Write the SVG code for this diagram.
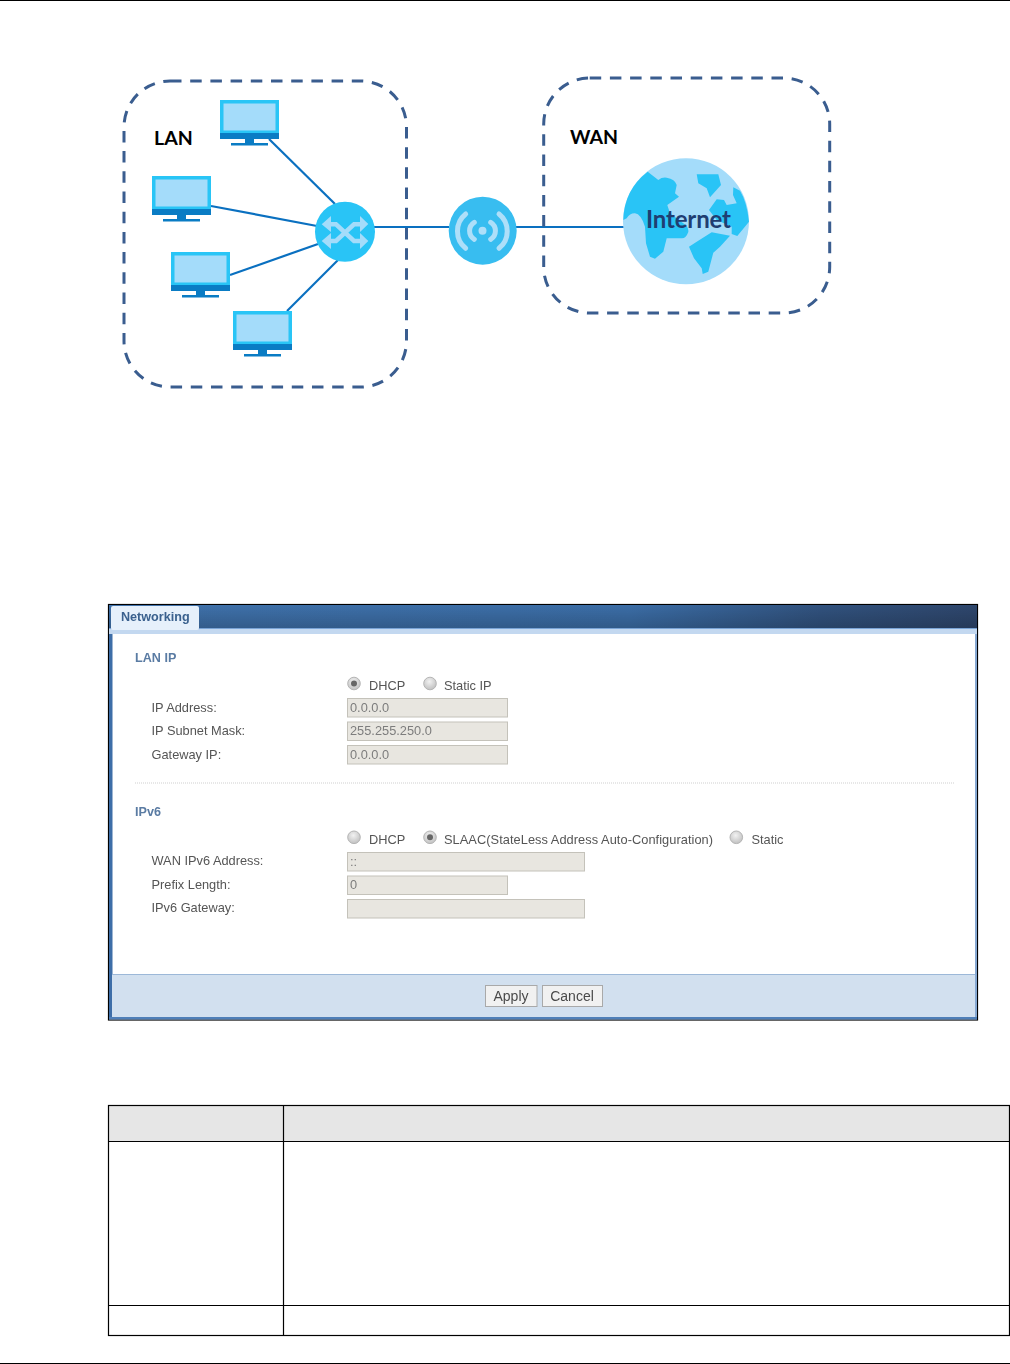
<svg xmlns="http://www.w3.org/2000/svg" width="1010" height="1364" viewBox="0 0 1010 1364">
<defs>
<linearGradient id="hdr" x1="0" y1="0" x2="1" y2="0"><stop offset="0" stop-color="#3f71aa"/><stop offset="0.6" stop-color="#3b6da6"/><stop offset="0.82" stop-color="#31527e"/><stop offset="1" stop-color="#2e466c"/></linearGradient>
<linearGradient id="hdrv" x1="0" y1="0" x2="0" y2="1"><stop offset="0" stop-color="#000" stop-opacity="0"/><stop offset="1" stop-color="#000" stop-opacity="0.18"/></linearGradient>
<radialGradient id="radio" cx="0.45" cy="0.35" r="0.7"><stop offset="0" stop-color="#f2f2f2"/><stop offset="1" stop-color="#bdbdbd"/></radialGradient>
<filter id="soft" x="-5%" y="-20%" width="110%" height="140%"><feGaussianBlur stdDeviation="0.3"/></filter>
<g id="monitor">
<rect x="0" y="0" width="59" height="39" fill="#29c5f6"/>
<rect x="3.5" y="3.5" width="52" height="27" fill="#a4dcfa"/>
<rect x="0" y="33" width="59" height="6" fill="#0a7cc4"/>
<rect x="25" y="39" width="9" height="4" fill="#0a7cc4"/>
<rect x="11" y="43" width="37" height="2.5" fill="#0a7cc4"/>
</g>
<circle id="radioEmpty" r="6.3" fill="url(#radio)" stroke="#b5b5b5" stroke-width="1"/>
</defs>
<style>
.zone{fill:none;stroke:#3a5d8f;stroke-width:3;stroke-dasharray:11.5 8.7}
.link{stroke:#0a70c0;stroke-width:2.2;fill:none}
.zl{font-family:"Lato","Liberation Sans",sans-serif;font-size:19.5px;font-weight:700;fill:#000}
.ui{font-family:"Liberation Sans",Arial,sans-serif;font-size:12.8px;fill:#555;filter:url(#soft)}
.val{font-family:"Liberation Sans",Arial,sans-serif;font-size:12.8px;fill:#7d7d7d;filter:url(#soft)}
.sec{font-family:"Liberation Sans",Arial,sans-serif;font-size:12.6px;font-weight:700;fill:#5a7ba3;filter:url(#soft)}
.field{fill:#e8e6e0;stroke:#c4c2ba;stroke-width:1}
.btn{fill:#f1f1f1;stroke:#a9a9a9;stroke-width:1}
.btxt{font-family:"Liberation Sans",Arial,sans-serif;font-size:14px;fill:#4a4a4a;text-anchor:middle;filter:url(#soft)}
.rule{stroke:#000;stroke-width:1.2;fill:none}
.arrow{fill:none;stroke:#a4dcfa;stroke-width:4.5}
.wave{fill:none;stroke:#aedff9;stroke-width:5;stroke-linecap:round}
.land{fill:#29c4f6}
</style>
<rect width="1010" height="1364" fill="#fff"/>
<line x1="0" y1="0.5" x2="1010" y2="0.5" stroke="#000" stroke-width="1"/>
<line x1="0" y1="1363.5" x2="1010" y2="1363.5" stroke="#000" stroke-width="1"/>

<g id="connectors">
<line class="link" x1="269" y1="139" x2="335" y2="204"/>
<line class="link" x1="211" y1="206" x2="317" y2="226"/>
<line class="link" x1="230" y1="275" x2="318" y2="244"/>
<line class="link" x1="287" y1="311" x2="338" y2="260"/>
<line class="link" x1="374" y1="227" x2="449" y2="227"/>
<line class="link" x1="516" y1="227" x2="625" y2="227"/>
</g>

<g id="zone-lan"><rect class="zone" x="124" y="81" width="282.5" height="306" rx="46" ry="46"/><text class="zl" x="154" y="145">LAN</text></g>
<g id="zone-wan"><rect class="zone" x="543.7" y="78" width="286" height="235" rx="46" ry="46"/><text class="zl" x="570" y="144">WAN</text></g>

<g id="pc-1"><use href="#monitor" x="220" y="100"/></g>
<g id="pc-2"><use href="#monitor" x="152" y="176"/></g>
<g id="pc-3"><use href="#monitor" x="171" y="252"/></g>
<g id="pc-4"><use href="#monitor" x="233" y="311"/></g>

<g id="switch">
<circle cx="345" cy="231.7" r="30" fill="#29c4f6"/>
<path class="arrow" d="M329 224.3H336L354 241H361M329 241H336L354 224.3H361"/>
<path d="M321.7 224.3L331 216V232ZM368.3 224L360 216V232ZM321.7 241L331 233V249ZM368.3 241L360 233V249Z" fill="#a4dcfa"/>
</g>

<g id="router">
<circle cx="482.7" cy="230.7" r="34" fill="#38bdf0"/>
<circle cx="482.5" cy="230.7" r="4" fill="#aedff9"/>
<path class="wave" d="M474.3 222.3A10 10 0 0 0 474.3 239.3M490.7 222.3A10 10 0 0 1 490.7 239.3M465.7 214A22 22 0 0 0 465.7 248.3M499 214A22 22 0 0 1 499 248.3"/>
</g>

<g id="internet">
<circle cx="686" cy="221.3" r="63" fill="#a4dcfa"/>
<path class="land" d="M647.7 171.7L658.3 180Q662 177 666.7 177.7Q675 179 676.7 185L675 193.3L679 196.7L667.3 205L670 213.3L683.3 223.3Q689 227 688.3 232Q686 238.5 681.7 238.3L666.7 238.3L663.3 251.7L655 258.7L650 256.7L646 243.3L645 226.7Q641 214 635 213.3Q630 213 626.7 218.3L623.3 220Q624 190 647.7 171.7Z"/>
<path class="land" d="M696.7 174.3H718.3L721 185L710 197.3L706.7 188.3L698.3 183.3Z"/>
<path class="land" d="M733.3 187.3L740 190.7Q747 202 749 221.7L737.3 236L731.7 234V226.7L716.7 220L709 210L716.7 199.3L724 200L726.7 205L736.7 203.3L733 195Z"/>
<path class="land" d="M711.7 232.3L730 235.7L720 246.7L713.3 252.7L708.3 271.7L702.7 274L701.7 268.3L694 258.3L689 246.7L696.7 241.7Z"/>
<text x="646" y="228" font-family="Lato,'Liberation Sans',sans-serif" font-size="24" font-weight="700" fill="#1f3e72" textLength="85">Internet</text>
</g>

<g id="screenshot">
<rect x="108.5" y="604.5" width="869" height="415.5" fill="#fff" stroke="#000" stroke-width="1.2"/>
<rect x="109" y="605" width="868" height="23" fill="url(#hdr)"/>
<rect x="109" y="605" width="868" height="23" fill="url(#hdrv)"/>
<rect x="109" y="628" width="868" height="6" fill="#c3d8f0"/>
<rect x="109" y="628" width="868" height="1" fill="#7aa4d6"/>
<rect x="109" y="634" width="3.5" height="385" fill="#3e6ea8"/>
<rect x="975" y="634" width="2" height="385" fill="#86a8d2"/>
<rect x="112" y="974" width="863" height="43" fill="#d2e0ef"/>
<rect x="112" y="974" width="863" height="1" fill="#9cb8d8"/>
<rect x="109" y="1017" width="868" height="2.5" fill="#4f7fb8"/>
<rect x="111" y="606" width="88" height="24" rx="2" fill="#e6f0fb"/>
<text x="121" y="621" font-family="'Liberation Sans',Arial,sans-serif" font-size="12.6" font-weight="700" fill="#3a618e" filter="url(#soft)">Networking</text>

<text class="sec" x="135" y="662">LAN IP</text>
<use href="#radioEmpty" x="354" y="683.5"/><circle cx="354" cy="683.5" r="3" fill="#666"/>
<text class="ui" x="369" y="690">DHCP</text>
<use href="#radioEmpty" x="430" y="683.5"/>
<text class="ui" x="444" y="690">Static IP</text>
<text class="ui" x="151.5" y="711.5">IP Address:</text>
<text class="ui" x="151.5" y="735">IP Subnet Mask:</text>
<text class="ui" x="151.5" y="758.5">Gateway IP:</text>
<rect class="field" x="347.5" y="698.5" width="160" height="18.5"/>
<rect class="field" x="347.5" y="722" width="160" height="18.5"/>
<rect class="field" x="347.5" y="745.5" width="160" height="18.5"/>
<text class="val" x="350" y="711.5">0.0.0.0</text>
<text class="val" x="350" y="735">255.255.250.0</text>
<text class="val" x="350" y="758.5">0.0.0.0</text>

<line x1="135" y1="783" x2="954" y2="783" stroke="#cfcfcf" stroke-width="1" stroke-dasharray="1 1"/>

<text class="sec" x="135" y="816">IPv6</text>
<use href="#radioEmpty" x="354" y="837.3"/>
<text class="ui" x="369" y="844">DHCP</text>
<use href="#radioEmpty" x="430" y="837.3"/><circle cx="430" cy="837.3" r="3" fill="#666"/>
<text class="ui" x="444" y="844" textLength="269">SLAAC(StateLess Address Auto-Configuration)</text>
<use href="#radioEmpty" x="736.3" y="837.3"/>
<text class="ui" x="751.5" y="844">Static</text>
<text class="ui" x="151.5" y="865">WAN IPv6 Address:</text>
<text class="ui" x="151.5" y="889">Prefix Length:</text>
<text class="ui" x="151.5" y="912">IPv6 Gateway:</text>
<rect class="field" x="347.5" y="852.5" width="237" height="18.5"/>
<rect class="field" x="347.5" y="876" width="160" height="18.5"/>
<rect class="field" x="347.5" y="899.5" width="237" height="18.5"/>
<text class="val" x="350" y="865.5">::</text>
<text class="val" x="350" y="889">0</text>

<rect class="btn" x="485.5" y="985.5" width="51.5" height="21"/>
<text class="btxt" x="511" y="1001">Apply</text>
<rect class="btn" x="542.5" y="985.5" width="60" height="21"/>
<text class="btxt" x="572" y="1001">Cancel</text>
</g>

<g id="table">
<rect x="108.5" y="1105.5" width="901" height="36" fill="#e6e6e6"/>
<rect class="rule" x="108.5" y="1105.5" width="901" height="230"/>
<line class="rule" x1="108.5" y1="1141.5" x2="1009.5" y2="1141.5"/>
<line class="rule" x1="108.5" y1="1305.5" x2="1009.5" y2="1305.5"/>
<line class="rule" x1="283.5" y1="1105.5" x2="283.5" y2="1335.5"/>
</g>
</svg>
